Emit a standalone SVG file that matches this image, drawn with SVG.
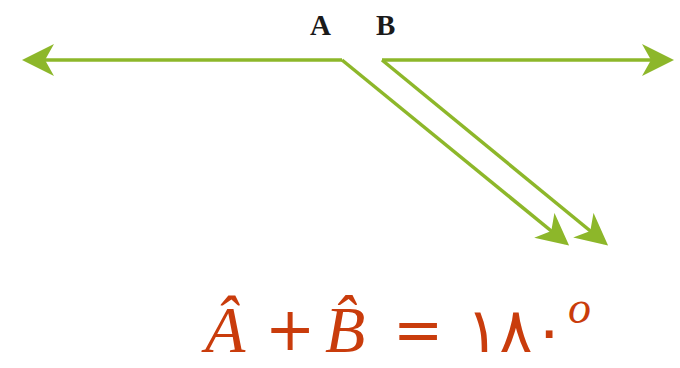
<svg xmlns="http://www.w3.org/2000/svg" width="680" height="368" viewBox="0 0 680 368">
<style>
.ln{fill:none;stroke:#8db72a;stroke-width:3.5;stroke-linejoin:miter}
.lbl{font-family:"Liberation Serif",serif;font-weight:bold;font-size:29px;fill:#1a1a1a}
.eq{font-family:"Liberation Serif",serif;fill:#c93c0c}
.op{font-family:"DejaVu Sans",sans-serif;fill:#c93c0c;font-size:60px}
.it{font-style:italic}
</style>
<defs>
<marker id="ah" viewBox="0 0 32 32" refX="28" refY="16" markerWidth="32" markerHeight="32" markerUnits="userSpaceOnUse" orient="auto">
<path d="M32,16 L0,0 L9,16 L0,32 Z" fill="#8db72a"/>
</marker>
</defs>
<rect width="680" height="368" fill="#fff"/>
<g id="connectors">
<path class="ln" d="M342,60 L26,60" marker-end="url(#ah)"/>
<path class="ln" d="M342,60 L566,243" marker-end="url(#ah)"/>
<path class="ln" d="M382,60 L605,243" marker-end="url(#ah)"/>
<path class="ln" d="M382,60 L670,60" marker-end="url(#ah)"/>
</g>
<g id="labelA"><text class="lbl" x="310" y="35">A</text></g>
<g id="labelB"><text class="lbl" x="376" y="35">B</text></g>
<g id="formula">
<text class="eq it" x="205" y="352" font-size="66">Â</text>
<text class="op" x="265" y="350">+</text>
<text class="eq it" x="325" y="352" font-size="66">B̂</text>
<text class="op" x="393" y="350">=</text>
<text x="466" y="352" font-size="62" font-family="'DejaVu Sans',sans-serif" fill="#c93c0c">۱۸۰</text>
<text class="eq it" x="568" y="323" font-size="46">o</text>
</g>
</svg>
